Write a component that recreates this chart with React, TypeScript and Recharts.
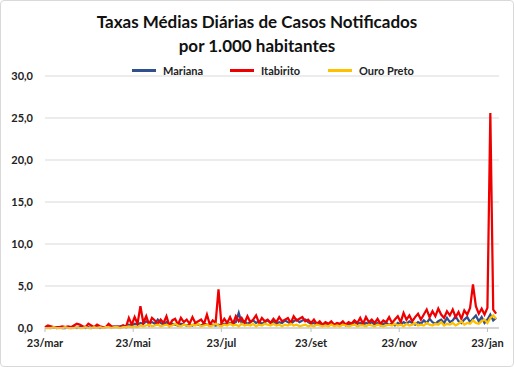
import { LineChart, Line, XAxis, YAxis, CartesianGrid } from "recharts"

// daily averages sampled every 2 days, starting 23/mar
const mariana = [
  0.0, 0.1, 0.0, 0.1, 0.0, 0.1, 0.0, 0.0, 0.1, 0.0,
  0.1, 0.0, 0.1, 0.1, 0.0, 0.1, 0.0, 0.1, 0.1, 0.0,
  0.1, 0.1, 0.2, 0.1, 0.2, 0.1, 0.2, 0.3, 0.2, 0.4,
  0.3, 0.5, 0.4, 0.6, 0.5, 0.8, 0.6, 0.7, 0.5, 1.0,
  0.6, 0.4, 0.7, 0.3, 0.5, 0.4, 0.3, 0.5, 0.4, 0.3,
  0.4, 0.3, 0.5, 0.4, 0.3, 0.5, 0.4, 0.3, 0.4, 0.3,
  0.4, 0.3, 0.5, 0.4, 0.6, 0.5, 0.7, 1.8, 0.6, 0.8,
  0.5, 0.7, 0.9, 0.6, 0.8, 0.5, 0.7, 0.9, 0.6, 0.8,
  0.5, 0.7, 0.6, 0.9, 0.7, 0.5, 0.8, 1.0, 0.7, 0.9,
  1.0, 0.7, 0.5, 0.6, 0.4, 0.5, 0.3, 0.5, 0.4, 0.6,
  0.3, 0.5, 0.4, 0.6, 0.3, 0.5, 0.4, 0.7, 0.5, 0.6,
  0.4, 0.6, 0.5, 0.7, 0.4, 0.6, 0.3, 0.5, 0.6, 0.4,
  0.5, 0.3, 0.6, 0.4, 0.7, 0.5, 0.8, 0.6, 0.4, 0.7,
  0.5, 0.9, 0.6, 1.1, 0.7, 0.5, 0.8, 1.0, 0.6, 1.2,
  0.7, 0.9, 1.4, 0.8, 0.6, 1.0, 1.3, 0.7, 1.1, 1.5,
  0.8, 1.3, 0.6, 1.0, 1.6, 0.9, 1.2,
]

const itabirito = [
  0.1, 0.3, 0.2, 0.1, 0.1, 0.1, 0.2, 0.1, 0.2, 0.1,
  0.3, 0.5, 0.4, 0.2, 0.1, 0.5, 0.3, 0.1, 0.4, 0.2,
  0.1, 0.1, 0.5, 0.2, 0.1, 0.2, 0.1, 0.3, 0.1, 1.2,
  0.4, 1.3, 0.5, 2.6, 0.6, 1.4, 0.4, 1.2, 0.9, 0.5,
  1.0, 0.6, 1.4, 0.3, 0.9, 1.1, 0.4, 1.2, 0.7, 1.0,
  0.5, 1.3, 0.6, 0.8, 1.0, 0.5, 1.6, 0.4, 0.9, 0.6,
  4.6, 0.5, 1.1, 0.6, 1.3, 0.5, 1.4, 0.8, 1.2, 0.6,
  1.4, 0.7, 1.0, 1.5, 0.6, 1.2, 0.8, 1.0, 0.6, 1.1,
  0.7, 1.3, 0.8, 1.0, 1.2, 0.6, 1.4, 0.9, 1.1, 1.3,
  0.8, 1.0, 0.6, 1.0, 0.5, 0.8, 0.4, 0.7, 0.5, 0.8,
  0.4, 0.6, 0.5, 0.8, 0.4, 0.7, 0.5, 0.9, 0.6, 1.2,
  0.5, 1.3, 0.7, 1.0, 0.6, 1.1, 0.5, 0.9, 0.7, 1.3,
  0.6, 1.0, 1.4, 0.7, 1.8, 1.0, 1.5, 0.8, 1.3, 1.7,
  1.0, 1.6, 2.2, 1.3, 2.0, 1.4, 2.3, 1.6, 1.2, 2.0,
  1.5, 2.2, 1.3, 1.9, 1.1, 2.1, 1.6, 2.4, 5.2, 2.6,
  1.7, 2.3, 1.6, 2.4, 25.6, 2.2, 1.7,
]

const ouroPreto = [
  0.0, 0.0, 0.0, 0.1, 0.0, 0.0, 0.0, 0.1, 0.0, 0.0,
  0.0, 0.1, 0.0, 0.0, 0.1, 0.0, 0.0, 0.1, 0.0, 0.1,
  0.0, 0.1, 0.1, 0.0, 0.1, 0.1, 0.0, 0.1, 0.1, 0.2,
  0.1, 0.2, 0.1, 0.3, 0.2, 0.3, 0.4, 0.2, 0.3, 0.4,
  0.2, 0.3, 0.4, 0.2, 0.3, 0.5, 0.3, 0.2, 0.4, 0.3,
  0.2, 0.4, 0.3, 0.5, 0.2, 0.3, 0.4, 0.2, 0.3, 0.5,
  0.3, 0.2, 0.4, 0.3, 0.5, 0.3, 0.4, 0.2, 0.5, 0.3,
  0.4, 0.3, 0.5, 0.2, 0.4, 0.3, 0.5, 0.4, 0.3, 0.5,
  0.3, 0.4, 0.2, 0.4, 0.3, 0.5, 0.3, 0.4, 0.2, 0.3,
  0.4, 0.2, 0.3, 0.2, 0.4, 0.3, 0.2, 0.3, 0.2, 0.4,
  0.2, 0.3, 0.2, 0.4, 0.3, 0.2, 0.3, 0.4, 0.2, 0.3,
  0.3, 0.2, 0.4, 0.3, 0.2, 0.4, 0.3, 0.2, 0.3, 0.4,
  0.3, 0.5, 0.3, 0.4, 0.2, 0.5, 0.3, 0.4, 0.6, 0.3,
  0.4, 0.3, 0.6, 0.4, 0.3, 0.5, 0.4, 0.7, 0.3, 0.5,
  0.4, 0.6, 0.3, 0.5, 0.8, 0.4, 0.6, 0.5, 0.9, 0.6,
  0.5, 0.8, 1.0, 0.6, 1.2, 1.5, 1.1,
]

const tickDays = [0, 61, 122, 184, 245, 306]
const tickLabels = ["23/mar", "23/mai", "23/jul", "23/set", "23/nov", "23/jan"]
const yTicks = [0, 5, 10, 15, 20, 25, 30]

const STEP = 2

const data = itabirito.map((v, i) => ({
  day: i * STEP,
  mariana: mariana[i],
  itabirito: v,
  ouroPreto: ouroPreto[i],
}))

const FONT = "Lato, 'Open Sans', sans-serif"

const series = [
  { key: "mariana", name: "Mariana", color: "#2F4F8F" },
  { key: "itabirito", name: "Itabirito", color: "#EE0000" },
  { key: "ouroPreto", name: "Ouro Preto", color: "#FFC000" },
]

export default function App() {
  return (
    <div
      style={{
        position: "fixed",
        left: 0,
        top: 0,
        width: 512,
        height: 365,
        border: "1px solid #d9d9d9",
        borderRadius: 4,
        background: "#fff",
        fontFamily: FONT,
      }}
    >
      <div
        style={{
          position: "absolute",
          top: 9,
          left: 0,
          width: 512,
          textAlign: "center",
          fontSize: 17,
          fontWeight: 700,
          lineHeight: "24px",
          color: "#111",
        }}
      >
        Taxas Médias Diárias de Casos Notificados
        <br />
        por 1.000 habitantes
      </div>
      {/* legend, fixed-width slots like the excel one */}
      <div
        style={{
          position: "absolute",
          top: 63,
          left: 131,
          display: "flex",
          fontSize: 11,
          fontWeight: 700,
          color: "#222",
        }}
      >
        {series.map((s) => (
          <div key={s.key} style={{ display: "flex", alignItems: "center", width: 98 }}>
            <span style={{ display: "inline-block", width: 24, height: 2.5, background: s.color, marginRight: 7 }} />
            {s.name}
          </div>
        ))}
      </div>
      <LineChart
        width={512}
        height={365}
        data={data}
        margin={{ top: 75, right: 14, bottom: 8, left: 4 }}
      >
        <CartesianGrid vertical={false} stroke="#d9d9d9" />
        <XAxis
          dataKey="day"
          type="number"
          domain={[0, 314]}
          ticks={tickDays}
          tickFormatter={(v) => tickLabels[tickDays.indexOf(v)]}
          stroke="#bfbfbf"
          tickSize={4}
          tickMargin={7}
          tick={{ fill: "#222", fontSize: 11, fontWeight: 700, fontFamily: FONT }}
          interval={0}
        />
        <YAxis
          domain={[0, 30]}
          ticks={yTicks}
          tickFormatter={(v) => v.toFixed(1).replace(".", ",")}
          axisLine={false}
          tickLine={false}
          width={40}
          tickMargin={6}
          tick={{ fill: "#222", fontSize: 11, fontWeight: 700, fontFamily: FONT }}
        />
        {series.map((s) => (
          <Line
            key={s.key}
            dataKey={s.key}
            name={s.name}
            stroke={s.color}
            strokeWidth={2.25}
            dot={false}
            type="linear"
            isAnimationActive={false}
          />
        ))}
      </LineChart>
    </div>
  )
}
